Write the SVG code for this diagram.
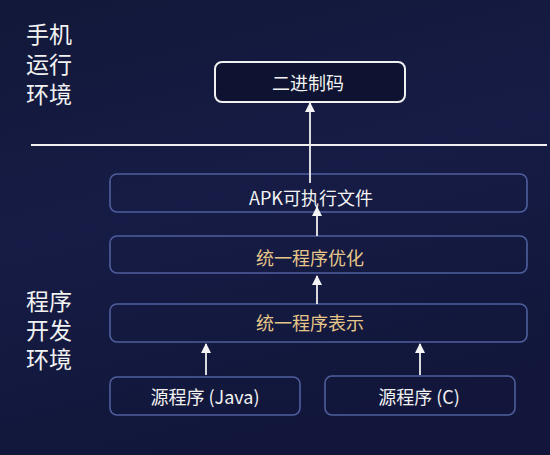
<svg xmlns="http://www.w3.org/2000/svg" width="550" height="455" viewBox="0 0 550 455">
<defs>
<linearGradient id="bg" x1="0" y1="0" x2="0.3" y2="1">
<stop offset="0" stop-color="#121839"/>
<stop offset="0.5" stop-color="#161c45"/>
<stop offset="1" stop-color="#11163a"/>
</linearGradient>
<marker id="ah" viewBox="0 0 10 10" refX="9" refY="5" markerWidth="10" markerHeight="10" markerUnits="userSpaceOnUse" orient="auto">
<path d="M0,0 L10,5 L0,10 z" fill="#f4f4f4"/>
</marker>
<style>
text{font-family:"Noto Sans CJK SC","Noto Sans",sans-serif;text-anchor:middle}
.side{font-family:"Liberation Sans","Noto Sans CJK SC",sans-serif;fill:#f2f2f2;font-size:23px;text-anchor:start}
.box{fill:none;stroke:#4f5f9e;stroke-width:1.6}
.wbox{fill:#0e1331;stroke:#f0f0f0;stroke-width:2}
.w{fill:#f2f2f2;font-size:18px}
.g{fill:#e6c689;font-size:18px}
.con line{stroke:#f0f0f0;stroke-width:1.8;marker-end:url(#ah)}
</style>
</defs>
<rect width="550" height="455" fill="url(#bg)"/>
<g id="label-phone">
<text class="side" x="26" y="43">手机</text>
<text class="side" x="26" y="73">运行</text>
<text class="side" x="26" y="103">环境</text>
</g>
<g id="label-dev">
<text class="side" x="26" y="310">程序</text>
<text class="side" x="26" y="339">开发</text>
<text class="side" x="26" y="368">环境</text>
</g>
<line id="divider" x1="31" y1="145" x2="547" y2="145" stroke="#f0f0f0" stroke-width="2"/>
<g id="binary">
<rect class="wbox" x="215" y="62" width="190" height="40" rx="7"/>
<text class="w" x="308" y="90">二进制码</text>
</g>
<g id="apk">
<rect class="box" x="110" y="174" width="417" height="38" rx="7"/>
<text class="w" x="311" y="205">APK可执行文件</text>
</g>
<g id="optimize">
<rect class="box" x="110" y="236" width="417" height="37" rx="7"/>
<text class="g" x="310" y="265">统一程序优化</text>
</g>
<g id="represent">
<rect class="box" x="110" y="304" width="417" height="38" rx="7"/>
<text class="g" x="310" y="330">统一程序表示</text>
</g>
<g id="src-java">
<rect class="box" x="110" y="377" width="190" height="38" rx="7"/>
<text class="w" x="205" y="404">源程序 (Java)</text>
</g>
<g id="src-c">
<rect class="box" x="325" y="376" width="190" height="39" rx="7"/>
<text class="w" x="419" y="404">源程序 (C)</text>
</g>
<g id="connectors" class="con">
<line x1="310" y1="183" x2="310" y2="103"/>
<line x1="317" y1="236" x2="317" y2="207"/>
<line x1="317" y1="304" x2="317" y2="276"/>
<line x1="206" y1="375" x2="206" y2="344"/>
<line x1="420" y1="375" x2="420" y2="344"/>
</g>
</svg>
